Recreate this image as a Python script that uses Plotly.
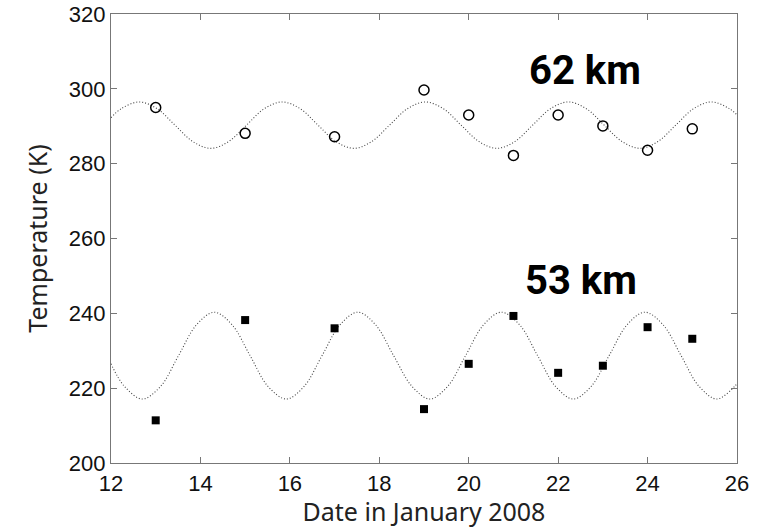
import plotly.graph_objects as go

# Observed data (day in January 2008, temperature K)
days = [13, 15, 17, 19, 20, 21, 22, 23, 24, 25]
temp_62km = [295.0, 288.1, 287.2, 299.7, 293.0, 282.2, 293.0, 290.1, 283.6, 289.3]
temp_53km = [211.4, 238.2, 236.0, 214.4, 226.5, 239.3, 224.1, 226.0, 236.3, 233.2]

# Dotted fitted curves
fit62_x = [12.0, 12.23, 12.63, 13.03, 13.43, 13.83, 14.23, 14.63, 15.03, 15.43, 15.83, 16.23,
           16.63, 17.03, 17.43, 17.83, 18.23, 18.63, 19.03, 19.43, 19.83, 20.23, 20.63, 21.03,
           21.43, 21.83, 22.23, 22.63, 23.03, 23.43, 23.83, 24.23, 24.63, 25.03, 25.43, 25.83, 26.0]
fit62_y = [292.3, 294.7, 296.5, 294.7, 290.3, 285.9, 284.1, 285.9, 290.3, 294.7, 296.5, 294.7,
           290.3, 285.9, 284.1, 285.9, 290.3, 294.7, 296.5, 294.7, 290.3, 285.9, 284.1, 285.9,
           290.3, 294.7, 296.5, 294.7, 290.3, 285.9, 284.1, 285.9, 290.3, 294.7, 296.5, 294.7, 293.0]

fit53_x = [12.0, 12.30, 12.70, 13.11, 13.51, 13.91, 14.31, 14.71, 15.11, 15.51, 15.92, 16.32,
           16.72, 17.12, 17.52, 17.92, 18.32, 18.73, 19.13, 19.53, 19.93, 20.33, 20.73, 21.14,
           21.54, 21.94, 22.34, 22.74, 23.14, 23.54, 23.94, 24.35, 24.75, 25.15, 25.55, 25.95, 26.0]
fit53_y = [226.5, 220.5, 217.1, 220.5, 228.7, 236.9, 240.3, 236.9, 228.7, 220.5, 217.1, 220.5,
           228.7, 236.9, 240.3, 236.9, 228.7, 220.5, 217.1, 220.5, 228.7, 236.9, 240.3, 236.9,
           228.7, 220.5, 217.1, 220.5, 228.7, 236.9, 240.3, 236.9, 228.7, 220.5, 217.1, 220.5, 221.3]

labels = ["62 km", "53 km"]
label_x = [22.6, 22.5]
label_y = [305.0, 248.8]

x_ticks = [12, 14, 16, 18, 20, 22, 24, 26]
y_ticks = [200, 220, 240, 260, 280, 300, 320]

fig = go.Figure()
fig.add_trace(go.Scatter(x=fit62_x, y=fit62_y, mode="lines", line_shape="spline",
                         line=dict(color="#444444", width=1.1, dash="1px,2px"), hoverinfo="skip"))
fig.add_trace(go.Scatter(x=fit53_x, y=fit53_y, mode="lines", line_shape="spline",
                         line=dict(color="#444444", width=1.1, dash="1px,2px"), hoverinfo="skip"))
fig.add_trace(go.Scatter(x=days, y=temp_62km, mode="markers",
                         marker=dict(symbol="circle-open", size=10, color="black",
                                     line=dict(width=1.5, color="black"))))
fig.add_trace(go.Scatter(x=days, y=temp_53km, mode="markers",
                         marker=dict(symbol="square", size=8, color="black")))

for t, lx, ly in zip(labels, label_x, label_y):
    fig.add_annotation(x=lx, y=ly, text=f"<b>{t}</b>", showarrow=False,
                       font=dict(family="Roboto", size=40, color="black"))

axis_common = dict(showgrid=False, zeroline=False, showline=True, linecolor="#777777",
                   linewidth=1.2, mirror="ticks", ticks="inside", ticklen=6,
                   tickcolor="#777777", tickwidth=1, automargin=False,
                   tickfont=dict(family="Liberation Sans", size=22, color="#111111"))

fig.update_layout(
    width=766, height=528,
    margin=dict(l=111, r=29, t=14, b=65),
    paper_bgcolor="white", plot_bgcolor="white",
    showlegend=False,
    font=dict(family="Liberation Sans"),
    xaxis=dict(range=[12, 26], tickvals=x_ticks, ticktext=[str(v) for v in x_ticks],
               title=dict(text="Date in January 2008", standoff=2,
                          font=dict(family="Noto Sans", size=25, color="#222222")),
               **axis_common),
    yaxis=dict(range=[200, 320], tickvals=y_ticks, ticktext=[str(v) for v in y_ticks],
               title=dict(text="Temperature (K)", standoff=14,
                          font=dict(family="Noto Sans", size=25, color="#222222")),
               **axis_common),
)

fig.write_html("out.html")
